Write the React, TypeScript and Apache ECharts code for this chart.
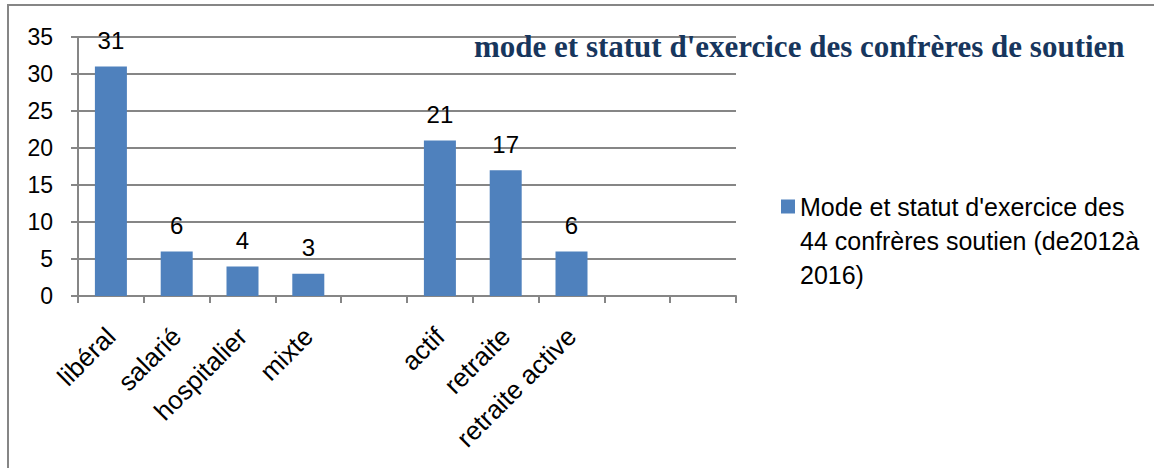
import React, { useEffect, useRef } from "react";
import * as echarts from "echarts";

const categories = ["libéral", "salarié", "hospitalier", "mixte", "", "actif", "retraite", "retraite active", " ", "  "];
const values: (number | string)[] = [31, 6, 4, 3, "-", 21, 17, 6, "-", "-"];
const seriesName = "Mode et statut d'exercice des 44 confrères soutien (de2012à 2016)";
const legendLines = ["Mode et statut d'exercice des", "44 confrères soutien (de2012à", "2016)"];
const titleText = "mode et statut d'exercice des confrères de soutien";
const yTicks = { min: 0, max: 35, interval: 5 };

const FONT = "'Liberation Sans', Arial, sans-serif";
const GRID = "#868686";

export default function App() {
  const ref = useRef<HTMLDivElement>(null);
  useEffect(() => {
    if (!ref.current) return;
    const chart = echarts.init(ref.current, null, { renderer: "svg" });
    chart.setOption({
      animation: false,
      backgroundColor: "#ffffff",
      title: {
        text: titleText,
        left: 474,
        top: 31,
        padding: 0,
        textStyle: {
          fontFamily: "'Liberation Serif', 'Times New Roman', serif",
          fontWeight: "bold",
          fontSize: 31,
          color: "#17365D",
        },
      },
      legend: {
        left: 781,
        top: 194,
        padding: 0,
        itemWidth: 14,
        itemHeight: 14,
        icon: "rect",
        formatter: () => legendLines[0],
        textStyle: { fontFamily: FONT, fontSize: 25, color: "#000" },
      },
      graphic: [
        {
          type: "rect",
          shape: { x: 8, y: 5, width: 1200, height: 520 },
          style: { fill: "none", stroke: GRID, lineWidth: 2 },
          silent: true,
        },
        {
          type: "text",
          x: 800,
          y: 224,
          style: {
            text: legendLines.slice(1).join("\n"),
            font: `25px ${FONT}`,
            lineHeight: 34,
            fill: "#000",
            verticalAlign: "top",
          },
        },
      ],
      grid: { left: 78, right: 418, top: 37, bottom: 172 },
      xAxis: {
        type: "category",
        data: categories,
        boundaryGap: true,
        axisLine: { show: true, lineStyle: { color: GRID, width: 2 } },
        axisTick: { show: true, length: 7, lineStyle: { color: GRID, width: 2 } },
        axisLabel: {
          interval: 0,
          rotate: 45,
          margin: 36,
          fontFamily: FONT,
          fontSize: 26,
          color: "#000",
        },
      },
      yAxis: {
        type: "value",
        min: yTicks.min,
        max: yTicks.max,
        interval: yTicks.interval,
        axisLine: { show: true, lineStyle: { color: GRID, width: 2 } },
        axisTick: { show: true, length: 7, lineStyle: { color: GRID, width: 2 } },
        axisLabel: { margin: 25, fontFamily: FONT, fontSize: 23, color: "#000" },
        splitLine: { show: true, lineStyle: { color: GRID, width: 2 } },
      },
      series: [
        {
          name: seriesName,
          type: "bar",
          data: values,
          barWidth: 32,
          itemStyle: { color: "#4F81BD" },
          label: {
            show: true,
            position: "top",
            distance: 14,
            fontFamily: FONT,
            fontSize: 24,
            color: "#000",
          },
        },
      ],
    });
    return () => chart.dispose();
  }, []);
  return (
    <div
      ref={ref}
      style={{ position: "fixed", left: 0, top: 0, width: 1154, height: 468 }}
    />
  );
}
